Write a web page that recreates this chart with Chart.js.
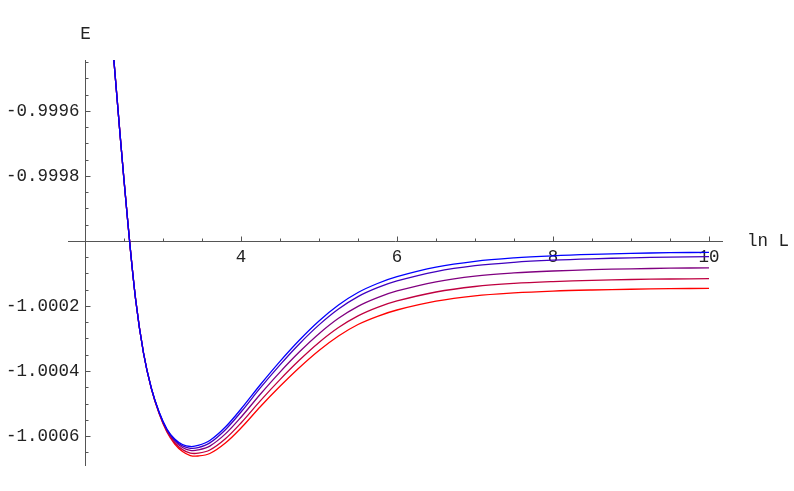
<!DOCTYPE html>
<html>
<head>
<meta charset="utf-8">
<script src="https://cdn.jsdelivr.net/npm/chart.js@4/dist/chart.umd.min.js"></script>
<style>
html,body{margin:0;padding:0;background:#fff;}
#c{display:block;}
</style>
</head>
<body>
<canvas id="c" width="794" height="491"></canvas>
<script>
// ---- data ----
const lnL = [2.3, 2.37, 2.45, 2.55, 2.65, 2.75, 2.85, 2.95, 3.05, 3.15, 3.25, 3.35, 3.45, 3.6, 3.8, 4.0,
  4.25, 4.5, 4.75, 5.0, 5.25, 5.5, 5.75, 6.0, 6.5, 7.0, 7.5, 8.0, 8.5, 9.0, 9.5, 10.0];

const E1 = [-0.9992585, -0.9994431, -0.9996738, -0.9999446, -1.0001815, -1.0003446,
  -1.0004523, -1.0005262, -1.0005785, -1.0006092, -1.0006262, -1.0006323, -1.0006292,
  -1.0006138, -1.0005723, -1.0005170, -1.0004415, -1.0003702, -1.0003046, -1.0002461, -1.0001969,
  -1.0001585, -1.0001308, -1.0001098, -1.0000806, -1.0000625, -1.0000520, -1.0000455, -1.0000412,
  -1.0000382, -1.0000360, -1.0000348];
const E2 = [-0.9992585, -0.9994431, -0.9996738, -0.9999446, -1.0001815, -1.0003446,
  -1.0004526, -1.0005271, -1.0005803, -1.0006123, -1.0006305, -1.0006378, -1.0006357,
  -1.0006212, -1.0005806, -1.0005262, -1.0004513, -1.0003810, -1.0003160, -1.0002581, -1.0002092,
  -1.0001711, -1.0001437, -1.0001230, -1.0000941, -1.0000760, -1.0000655, -1.0000590, -1.0000547,
  -1.0000517, -1.0000495, -1.0000483];
const E3 = [-0.9992585, -0.9994431, -0.9996738, -0.9999446, -1.0001815, -1.0003446,
  -1.0004529, -1.0005282, -1.0005825, -1.0006158, -1.0006354, -1.0006443, -1.0006430,
  -1.0006310, -1.0005935, -1.0005422, -1.0004707, -1.0004033, -1.0003409, -1.0002852, -1.0002378,
  -1.0002010, -1.0001742, -1.0001538, -1.0001255, -1.0001080, -1.0000983, -1.0000923, -1.0000883,
  -1.0000856, -1.0000837, -1.0000825];
const E4 = [-0.9992585, -0.9994431, -0.9996738, -0.9999446, -1.0001815, -1.0003446,
  -1.0004534, -1.0005296, -1.0005853, -1.0006204, -1.0006419, -1.0006526, -1.0006529,
  -1.0006430, -1.0006083, -1.0005598, -1.0004910, -1.0004264, -1.0003664, -1.0003123, -1.0002664,
  -1.0002305, -1.0002043, -1.0001846, -1.0001569, -1.0001400, -1.0001305, -1.0001249, -1.0001212,
  -1.0001185, -1.0001169, -1.0001157];
const E5 = [-0.9992585, -0.9994431, -0.9996738, -0.9999446, -1.0001815, -1.0003446,
  -1.0004538, -1.0005308, -1.0005877, -1.0006246, -1.0006477, -1.0006600, -1.0006615,
  -1.0006538, -1.0006215, -1.0005755, -1.0005092, -1.0004471, -1.0003892, -1.0003369, -1.0002923,
  -1.0002570, -1.0002317, -1.0002123, -1.0001852, -1.0001687, -1.0001597, -1.0001541, -1.0001507,
  -1.0001484, -1.0001468, -1.0001456];

const seriesValues = [E1, E2, E3, E4, E5];
const seriesColors = ['rgb(0,0,255)', 'rgb(64,0,191)', 'rgb(128,0,128)', 'rgb(191,0,64)', 'rgb(255,0,0)'];

const xTickValues = [4, 6, 8, 10];
const xTickLabels = ['4', '6', '8', '10'];
const xMinorTicks = [2.5, 3, 3.5, 4.5, 5, 5.5, 6.5, 7, 7.5, 8.5, 9, 9.5];
const yTickValues = [-0.9996, -0.9998, -1.0002, -1.0004, -1.0006];
const yTickLabels = ['-0.9996', '-0.9998', '-1.0002', '-1.0004', '-1.0006'];
const yMinorTicks = [-0.99945, -0.9995, -0.99955, -0.99965, -0.9997, -0.99975, -0.99985, -0.9999, -0.99995,
  -1.00005, -1.0001, -1.00015, -1.00025, -1.0003, -1.00035, -1.00045, -1.0005, -1.00055, -1.00065];
const axisCross = {x: 2, y: -1};
const xAxisLabel = 'ln L';
const yAxisLabel = 'E';

// ---- chart ----
const FONT = '17.5px "Liberation Mono", "DejaVu Sans Mono", monospace';
const AX = '#555';

const axesPlugin = {
  id: 'mmaAxes',
  beforeDatasetsDraw(chart) {
    const ctx = chart.ctx, xs = chart.scales.x, ys = chart.scales.y, a = chart.chartArea;
    const x0 = Math.round(xs.getPixelForValue(axisCross.x)) + 0.5;
    const y0 = Math.round(ys.getPixelForValue(axisCross.y)) + 0.5;
    ctx.save();
    ctx.strokeStyle = AX;
    ctx.lineWidth = 1;
    ctx.beginPath();
    ctx.moveTo(a.left, y0); ctx.lineTo(a.right, y0);
    ctx.moveTo(x0, a.top); ctx.lineTo(x0, a.bottom);
    xTickValues.forEach(v => { const p = Math.round(xs.getPixelForValue(v)) + 0.5; ctx.moveTo(p, y0); ctx.lineTo(p, y0 - 5); });
    xMinorTicks.forEach(v => { const p = Math.round(xs.getPixelForValue(v)) + 0.5; ctx.moveTo(p, y0); ctx.lineTo(p, y0 - 3); });
    yTickValues.forEach(v => { const p = Math.round(ys.getPixelForValue(v)) + 0.5; ctx.moveTo(x0, p); ctx.lineTo(x0 + 5, p); });
    yMinorTicks.forEach(v => { const p = Math.round(ys.getPixelForValue(v)) + 0.5; ctx.moveTo(x0, p); ctx.lineTo(x0 + 3, p); });
    ctx.stroke();

    ctx.fillStyle = '#222';
    ctx.font = FONT;
    ctx.textAlign = 'center'; ctx.textBaseline = 'middle';
    xTickValues.forEach((v, i) => ctx.fillText(xTickLabels[i], xs.getPixelForValue(v), y0 + 16));
    ctx.textAlign = 'right';
    yTickValues.forEach((v, i) => ctx.fillText(yTickLabels[i], x0 - 6, ys.getPixelForValue(v)));
    ctx.textAlign = 'left';
    ctx.fillText(xAxisLabel, 747, y0);
    ctx.textAlign = 'center';
    ctx.fillText(yAxisLabel, x0, 34);
    ctx.restore();
  }
};

new Chart(document.getElementById('c'), {
  type: 'line',
  data: {
    datasets: seriesValues.map((vals, i) => ({
      data: lnL.map((x, k) => ({x: x, y: vals[k]})),
      borderColor: seriesColors[i],
      borderWidth: 1.3,
      pointRadius: 0,
      fill: false,
      tension: 0.35,
      clip: 0
    }))
  },
  options: {
    responsive: false,
    animation: false,
    devicePixelRatio: 1,
    layout: {padding: {left: 68, right: 71, top: 60, bottom: 25}},
    plugins: {legend: {display: false}, tooltip: {enabled: false}},
    scales: {
      x: {type: 'linear', min: 1.782, max: 10.1795, display: false},
      y: {type: 'linear', min: -1.0006923, max: -0.9994431, display: false}
    }
  },
  plugins: [axesPlugin]
});
</script>
</body>
</html>
